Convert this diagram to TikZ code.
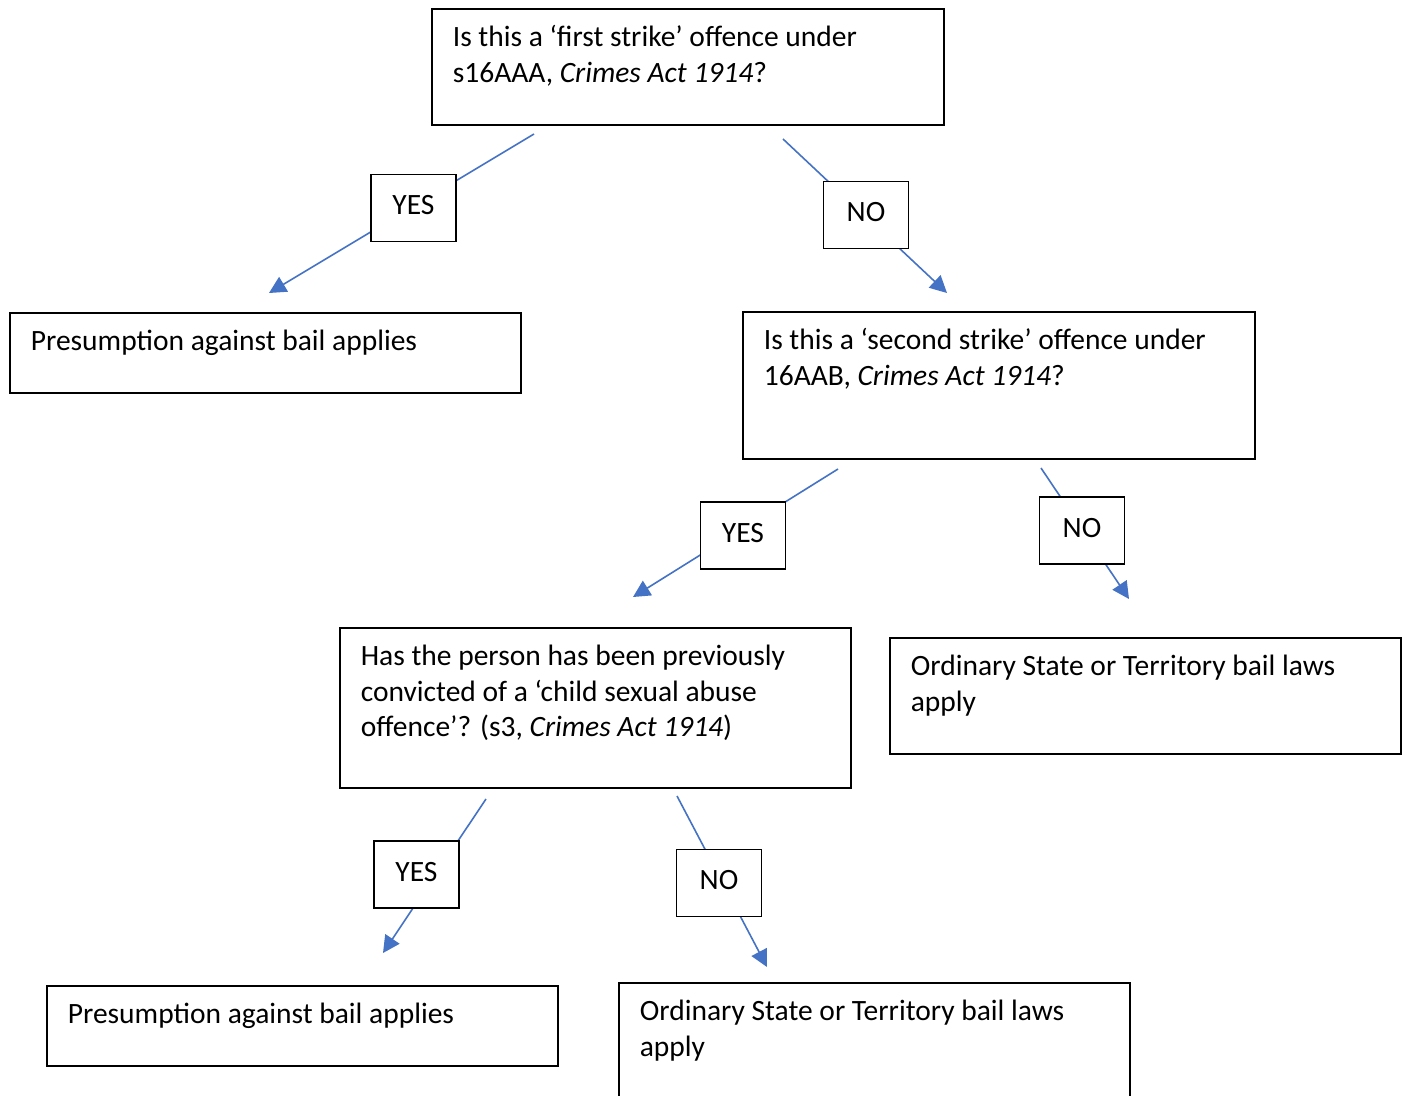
\documentclass[tikz,border=0pt]{standalone}
\usepackage{fontspec}
\setmainfont{Carlito}
\usetikzlibrary{arrows.meta}
\definecolor{linkblue}{RGB}{68,114,196}
\newcommand{\boxtxt}[3]{\parbox[t][#2pt][t]{#1pt}{\raggedright\strut #3}}

\begin{document}
\begin{tikzpicture}[x=1pt,y=-1pt,
 every node/.style={font=\fontsize{29.5}{35.5}\selectfont},
 qbox/.style={draw,line width=1.7pt,anchor=north west,inner xsep=21pt,inner ysep=13pt,align=left},
 lbl/.style={draw,fill=white,line width=1.7pt,minimum width=85pt,minimum height=67pt,inner sep=0pt,text depth=6pt},
 link/.style={linkblue,line width=1.6pt},
 arr/.style={link,-{Triangle[length=17pt,width=17pt]}}]
 \useasboundingbox (0,0) rectangle (1407,1095);
 \clip (0,0) rectangle (1407,1095);

 % question and outcome boxes
 \node[qbox] (first) at (431,8) {\boxtxt{470}{90}{Is this a ‘first strike’ offence under\\ s16AAA, \textit{Crimes Act 1914}?}};
 \node[qbox] (presA) at (9,312) {\boxtxt{469}{54}{Presumption against bail applies}};
 \node[qbox] (second) at (742,311) {\boxtxt{470}{121}{Is this a ‘second strike’ offence under\\ 16AAB, \textit{Crimes Act 1914}?}};
 \node[qbox] (child) at (339,627) {\boxtxt{469}{134}{Has the person has been previously\\ convicted of a ‘child sexual abuse\\ offence’? (s3, \textit{Crimes Act 1914})}};
 \node[qbox] (ordA) at (889,637) {\boxtxt{469}{90}{Ordinary State or Territory bail laws\\ apply}};
 \node[qbox] (presB) at (46,985) {\boxtxt{469}{54}{Presumption against bail applies}};
 \node[qbox] (ordB) at (618,982) {\boxtxt{469}{130}{Ordinary State or Territory bail laws\\ apply}};

 % free ends of the connectors
 \coordinate (y1s) at (534,134); \coordinate (y1e) at (269,293);
 \coordinate (n1s) at (783,139); \coordinate (n1e) at (947,293);
 \coordinate (y2s) at (838,469); \coordinate (y2e) at (633,597);
 \coordinate (n2s) at (1041,468); \coordinate (n2e) at (1129,599);
 \coordinate (y3s) at (486,799); \coordinate (y3e) at (383,953);
 \coordinate (n3s) at (677,796); \coordinate (n3e) at (767,967);

 \draw[arr] (y1s) -- (y1e);
 \draw[arr] (n1s) -- (n1e);
 \draw[arr] (y2s) -- (y2e);
 \draw[arr] (n2s) -- (n2e);
 \draw[arr] (y3s) -- (y3e);
 \draw[arr] (n3s) -- (n3e);

 % answer labels, on top of the connectors
 \node[lbl] (yes1) at (413.5,208) {YES};
 \node[lbl] (no1) at (866,215) {NO};
 \node[lbl] (yes2) at (743,535.5) {YES};
 \node[lbl] (no2) at (1082,530.5) {NO};
 \node[lbl] (yes3) at (416.5,874.5) {YES};
 \node[lbl] (no3) at (719,883) {NO};
\end{tikzpicture}
\end{document}
